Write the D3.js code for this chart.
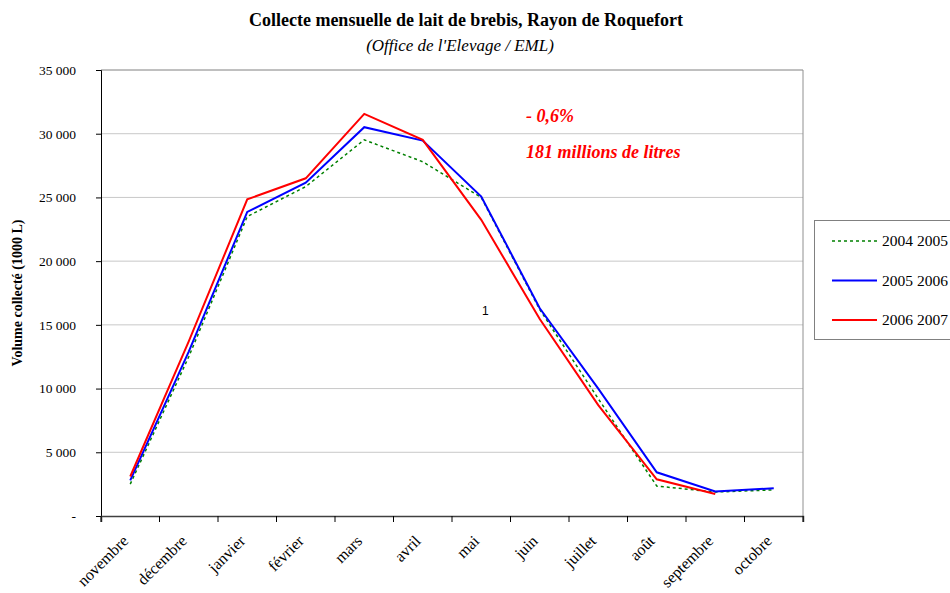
<!DOCTYPE html>
<html>
<head>
<meta charset="utf-8">
<script src="https://cdn.jsdelivr.net/npm/d3@7"></script>
<style>
  body { margin: 0; background: #fff; }
  svg { display: block; font-family: "Liberation Serif", "Times New Roman", serif; }
</style>
</head>
<body>
<div id="chart"></div>
<script>
const months = ["novembre", "décembre", "janvier", "février", "mars", "avril", "mai", "juin", "juillet", "août", "septembre", "octobre"];
const s2004 = [2500, 12500, 23500, 25850, 29520, 27800, 25000, 16200, 9200, 2350, 1880, 2050];
const s2005 = [2800, 12900, 23860, 26160, 30510, 29460, 25070, 16300, 10000, 3430, 1930, 2170];
const s2006 = [3100, 13700, 24850, 26500, 31560, 29520, 23240, 15460, 8700, 2880, 1730];
const yTicks = [0, 5000, 10000, 15000, 20000, 25000, 30000, 35000];
const seriesNames = ["2004 2005", "2005 2006", "2006 2007"];

const w = 950, h = 593;
const margin = { top: 70, right: 147, bottom: 77, left: 101 };

const svg = d3.select("#chart").append("svg")
  .attr("width", w).attr("height", h);

const x = d3.scaleBand()
  .domain(months)
  .range([margin.left, w - margin.right]);

const y = d3.scaleLinear()
  .domain([0, 35000])
  .range([h - margin.bottom, margin.top]);

// gridlines
svg.append("g")
  .selectAll("line")
  .data(yTicks.filter(d => d > 0))
  .join("line")
  .attr("x1", margin.left).attr("x2", w - margin.right)
  .attr("y1", d => y(d)).attr("y2", d => y(d))
  .attr("stroke", d => d === 35000 ? "#808080" : "#c8c8c8")
  .attr("stroke-width", 1);

// right border
svg.append("line")
  .attr("x1", w - margin.right).attr("x2", w - margin.right)
  .attr("y1", y(35000)).attr("y2", y(0))
  .attr("stroke", "#909090");

const fmt = d => d === 0 ? "-" : d3.format(",")(d).replace(",", " ");

const yAxis = svg.append("g")
  .attr("transform", `translate(${margin.left},0)`)
  .call(d3.axisLeft(y).tickValues(yTicks).tickFormat(fmt).tickSize(5).tickPadding(20));
yAxis.selectAll("text").attr("font-size", 13.5).attr("font-family", "Liberation Serif").attr("fill", "#000");
yAxis.select(".domain").attr("stroke", "#000");

const xAxis = svg.append("g")
  .attr("transform", `translate(0,${y(0)})`)
  .call(d3.axisBottom(x).tickSize(6).tickFormat(""));
xAxis.selectAll(".tick").remove();
xAxis.select(".domain").attr("stroke", "#404040").attr("stroke-width", 1.5);

// ticks at category boundaries
const bounds = months.map(m => x(m)).concat([x(months[months.length - 1]) + x.bandwidth()]);
svg.append("g").selectAll("line")
  .data(bounds)
  .join("line")
  .attr("x1", d => d).attr("x2", d => d)
  .attr("y1", y(0)).attr("y2", y(0) + 6)
  .attr("stroke", "#000");

// month labels
svg.append("g").selectAll("text")
  .data(months)
  .join("text")
  .attr("transform", d => `translate(${x(d) + x.bandwidth() / 2 - 1},${y(0) + 26}) rotate(-45)`)
  .attr("text-anchor", "end")
  .attr("font-size", 16)
  .text(d => d);

// y label
svg.append("text")
  .attr("transform", `translate(22,${(y(0) + y(35000)) / 2}) rotate(-90)`)
  .attr("text-anchor", "middle")
  .attr("font-size", 14)
  .attr("font-weight", "bold")
  .text("Volume collecté (1000 L)");

// lines
const cx = d => x(d) + x.bandwidth() / 2;
const line = d3.line()
  .x((d, i) => cx(months[i]))
  .y(d => y(d));

const styles = [
  { data: s2004, color: "#008000", width: 1.5, dash: "3,3" },
  { data: s2005, color: "#0000ff", width: 2, dash: null },
  { data: s2006, color: "#ff0000", width: 2, dash: null }
];

styles.forEach(s => {
  svg.append("path")
    .datum(s.data)
    .attr("fill", "none")
    .attr("stroke", s.color)
    .attr("stroke-width", s.width)
    .attr("stroke-dasharray", s.dash)
    .attr("stroke-linejoin", "miter")
    .attr("d", line);
});

// title
svg.append("text")
  .attr("x", 466).attr("y", 26)
  .attr("text-anchor", "middle")
  .attr("font-size", 18).attr("font-weight", "bold")
  .text("Collecte mensuelle de lait de brebis, Rayon de Roquefort");
svg.append("text")
  .attr("x", 460).attr("y", 51)
  .attr("text-anchor", "middle")
  .attr("font-size", 17).attr("font-style", "italic")
  .text("(Office de l'Elevage / EML)");

// annotations
svg.append("text")
  .attr("x", 526).attr("y", 122)
  .attr("fill", "#ff0000").attr("font-size", 18)
  .attr("font-weight", "bold").attr("font-style", "italic")
  .text("- 0,6%");
svg.append("text")
  .attr("x", 526).attr("y", 158)
  .attr("fill", "#ff0000").attr("font-size", 18)
  .attr("font-weight", "bold").attr("font-style", "italic")
  .text("181 millions de litres");

svg.append("text")
  .attr("x", 482).attr("y", 315)
  .attr("font-family", "Liberation Sans, Arial, sans-serif")
  .attr("font-size", 12)
  .text("1");

// legend
const lg = svg.append("g");
lg.append("rect")
  .attr("x", 814.5).attr("y", 220.5)
  .attr("width", 150).attr("height", 119)
  .attr("fill", "#fff").attr("stroke", "#808080");

styles.forEach((s, i) => {
  const ly = 241 + i * 39.5;
  lg.append("line")
    .attr("x1", 832).attr("x2", 877)
    .attr("y1", ly).attr("y2", ly)
    .attr("stroke", s.color)
    .attr("stroke-width", s.width)
    .attr("stroke-dasharray", s.dash);
  lg.append("text")
    .attr("x", 882).attr("y", ly + 5)
    .attr("font-size", 15.5)
    .text(seriesNames[i]);
});
</script>
</body>
</html>
